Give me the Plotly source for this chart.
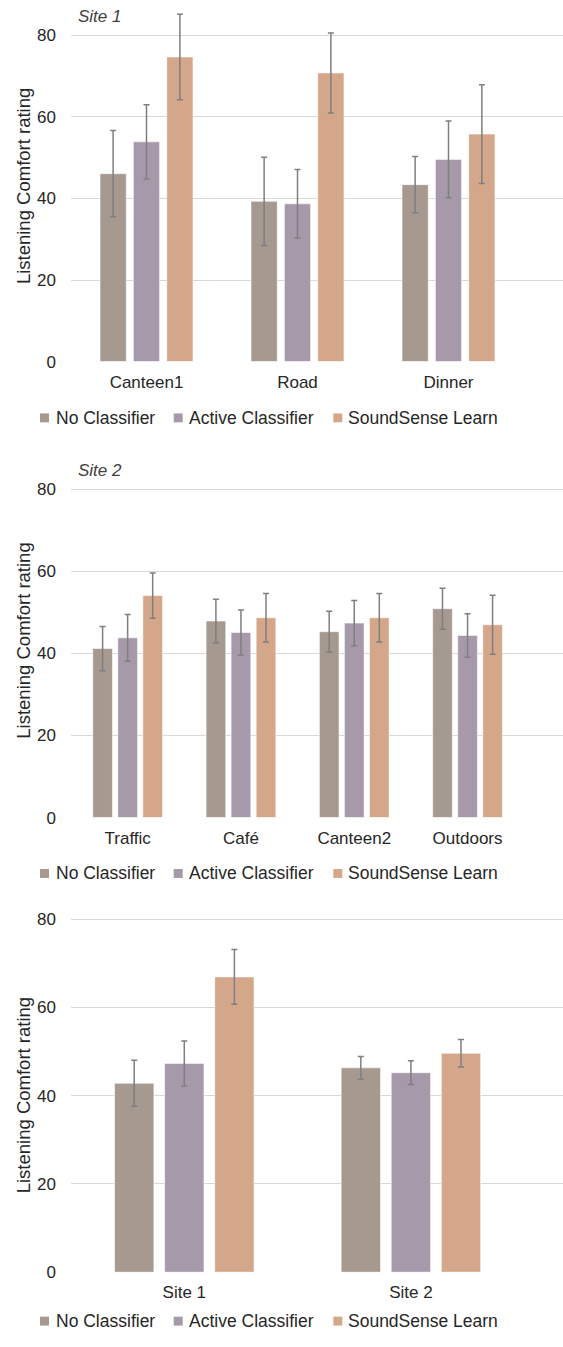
import plotly.graph_objects as go

# ---------------- data ----------------
series_names = ["No Classifier", "Active Classifier", "SoundSense Learn"]

site1_categories = ["Canteen1", "Road", "Dinner"]
site1_no_classifier = [46.1, 39.3, 43.4]
site1_no_classifier_err = [10.6, 10.8, 6.9]
site1_active_classifier = [53.9, 38.7, 49.6]
site1_active_classifier_err = [9.1, 8.4, 9.4]
site1_soundsense = [74.7, 70.8, 55.8]
site1_soundsense_err = [10.5, 9.8, 12.1]

site2_categories = ["Traffic", "Café", "Canteen2", "Outdoors"]
site2_no_classifier = [41.2, 47.9, 45.3, 50.9]
site2_no_classifier_err = [5.4, 5.3, 5.0, 5.0]
site2_active_classifier = [43.8, 45.1, 47.4, 44.4]
site2_active_classifier_err = [5.7, 5.5, 5.5, 5.3]
site2_soundsense = [54.1, 48.7, 48.7, 47.0]
site2_soundsense_err = [5.5, 5.9, 5.9, 7.2]

overall_categories = ["Site 1", "Site 2"]
overall_no_classifier = [42.8, 46.3]
overall_no_classifier_err = [5.2, 2.6]
overall_active_classifier = [47.3, 45.2]
overall_active_classifier_err = [5.1, 2.7]
overall_soundsense = [66.9, 49.6]
overall_soundsense_err = [6.2, 3.1]

y_tick_values = [0, 20, 40, 60, 80]
panel_labels = ["Site 1", "Site 2", ""]
y_title = "Listening Comfort rating"

# ---------------- style ----------------
W, H = 563, 1347
colors = ["#A6998F", "#A699AA", "#D4A78B"]
err_color = "#7F7F7F"
grid_color = "#D9D9D9"
text_color = "#262626"
FONT = "Liberation Sans, Arial, sans-serif"

plot_left = 71
# (zero pixel, eighty pixel, top pixel of domain)
panels_px = [
    (364.3, 35.7, 0.0),
    (823.7, 493.0, 480.0),
    (1281.7, 926.0, 915.0),
]
cat_spacing_px = [151.0, 113.3, 226.6]
legend_center_px = [421, 880, 1331]
legend_marker_left_px = [40, 173.7, 333.3]
legend_text_left_px = [54, 187, 346]
legend_marker_size = 9
title_center_px = [188, 646, 1104]
label_center_px = [16.5, 474, None]

panel_data = [
    (site1_categories,
     [site1_no_classifier, site1_active_classifier, site1_soundsense],
     [site1_no_classifier_err, site1_active_classifier_err, site1_soundsense_err]),
    (site2_categories,
     [site2_no_classifier, site2_active_classifier, site2_soundsense],
     [site2_no_classifier_err, site2_active_classifier_err, site2_soundsense_err]),
    (overall_categories,
     [overall_no_classifier, overall_active_classifier, overall_soundsense],
     [overall_no_classifier_err, overall_active_classifier_err, overall_soundsense_err]),
]

fig = go.Figure()
layout_updates = {}
annotations = []
shapes = []

for p, (cats, vals, errs) in enumerate(panel_data):
    idx = "" if p == 0 else str(p + 1)
    xa, ya = "x" + idx, "y" + idx
    for s in range(3):
        fig.add_trace(go.Bar(
            x=cats, y=vals[s], name=series_names[s],
            xaxis=xa, yaxis=ya,
            marker=dict(color=colors[s], line=dict(color="rgba(255,255,255,0.55)", width=1)),
            error_y=dict(type="data", array=errs[s], visible=True,
                         color=err_color, thickness=1.5, width=3),
            showlegend=False,
        ))
    zero_px, eighty_px, top_px = panels_px[p]
    ppu = (zero_px - eighty_px) / 80.0
    ymax = (zero_px - top_px) / ppu
    dom_bottom = 1 - zero_px / H
    dom_top = 1 - top_px / H
    xspan = (W - plot_left) / cat_spacing_px[p]
    layout_updates["xaxis" + idx] = dict(
        domain=[plot_left / W, 1], anchor=ya, range=[-0.5, -0.5 + xspan],
        showgrid=False, zeroline=False, showline=False, ticks="",
        tickfont=dict(family=FONT, size=17, color=text_color),
        ticklabelstandoff=8, fixedrange=True,
    )
    layout_updates["yaxis" + idx] = dict(
        domain=[dom_bottom, dom_top], anchor=xa, range=[0, ymax],
        tickvals=y_tick_values, showgrid=True, gridcolor=grid_color, gridwidth=1,
        zeroline=False, showline=False, ticks="",
        tickfont=dict(family=FONT, size=17, color=text_color),
        ticklabelstandoff=14, fixedrange=True,
    )
    # legend (drawn as layout decoration, one per panel)
    lc = legend_center_px[p]
    for s in range(3):
        mx = legend_marker_left_px[s]
        shapes.append(dict(
            type="rect", xref="paper", yref="paper",
            x0=mx / W, x1=(mx + legend_marker_size) / W,
            y0=1 - (lc + legend_marker_size / 2) / H, y1=1 - (lc - legend_marker_size / 2) / H,
            fillcolor=colors[s], line=dict(width=0),
        ))
        annotations.append(dict(
            text=series_names[s], xref="paper", yref="paper",
            x=legend_text_left_px[s] / W, y=1 - lc / H,
            xanchor="left", yanchor="middle", showarrow=False,
            font=dict(family=FONT, size=17.5, color=text_color),
        ))
    annotations.append(dict(
        text=y_title, xref="paper", yref="paper", x=23.5 / W, y=1 - title_center_px[p] / H,
        xanchor="center", yanchor="middle", textangle=-90, showarrow=False,
        font=dict(family=FONT, size=18.5, color=text_color),
    ))
    if panel_labels[p]:
        annotations.append(dict(
            text="<i>" + panel_labels[p] + "</i>", xref="paper", yref="paper",
            x=76 / W, y=1 - label_center_px[p] / H, xanchor="left", yanchor="middle",
            showarrow=False, font=dict(family=FONT, size=17, color="#404040"),
        ))

fig.update_layout(
    width=W, height=H, margin=dict(l=0, r=0, t=0, b=0),
    paper_bgcolor="white", plot_bgcolor="white",
    barmode="group", bargap=0.337, bargroupgap=0.215,
    showlegend=False,
    annotations=annotations, shapes=shapes, **layout_updates,
)

fig.write_html(
    "out.html",
    config={"displayModeBar": False},
    post_script="document.body.style.margin='0';document.body.style.overflow='hidden';",
)
